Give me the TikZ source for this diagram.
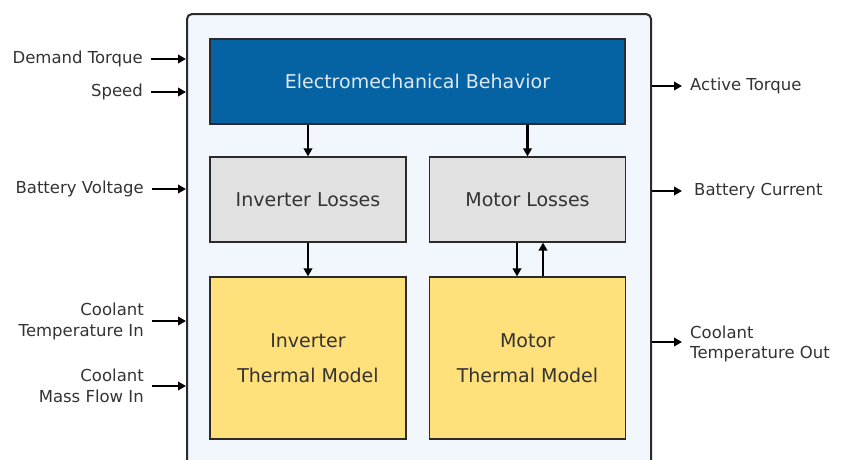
\documentclass[tikz,border=0pt]{standalone}
\usepackage{fontspec}
\setmainfont{DejaVu Sans}
\usetikzlibrary{arrows.meta}
\definecolor{emblue}{HTML}{0563A3}
\definecolor{emtext}{HTML}{DCE8F2}
\definecolor{lossgray}{HTML}{E1E1E1}
\definecolor{thermyel}{HTML}{FFE07A}
\definecolor{outerfill}{HTML}{F1F7FD}
\definecolor{edge}{HTML}{2B2B2B}
\definecolor{txt}{HTML}{333333}
\tikzset{
  outerbox/.style={draw=edge, line width=2pt, fill=outerfill, rounded corners=5pt, inner sep=0pt},
  blockbox/.style={draw=edge, line width=1.2pt, inner sep=0pt, text=txt, font=\fontsize{19}{23}\selectfont},
  embox/.style={blockbox, fill=emblue, text=emtext, minimum width=415pt, minimum height=85pt},
  lossbox/.style={blockbox, fill=lossgray, minimum width=196pt, minimum height=85pt},
  thermbox/.style={blockbox, fill=thermyel, minimum width=196pt, minimum height=162pt, align=center, font=\fontsize{19}{35}\selectfont},
  inlabel/.style={anchor=east, text=txt, align=right, inner sep=0pt, font=\fontsize{16.5}{21}\selectfont},
  outlabel/.style={anchor=west, text=txt, align=left, inner sep=0pt, font=\fontsize{16.5}{20}\selectfont},
  arr/.style={draw=black, line width=2.2pt, -{Triangle[length=8pt,width=8.5pt]}}
}
\begin{document}
\begin{tikzpicture}[x=1pt,y=-1pt]
\useasboundingbox (0,0) rectangle (842,459);
\clip (0,0) rectangle (842,459);
\node[outerbox, anchor=north west, minimum width=464pt, minimum height=480pt] (outer) at (186,13) {};
\node[embox] (em) at (417.5,81.5) {Electromechanical Behavior};
\node[lossbox] (il) at (308,199.5) {Inverter Losses};
\node[lossbox] (ml) at (527.5,199.5) {Motor Losses};
\node[thermbox] (it) at (308,358) {Inverter\\Thermal Model};
\node[thermbox] (mt) at (527.5,358) {Motor\\Thermal Model};
% internal arrows
\draw[arr] (em.south -| il.north) -- (il.north);
\draw[arr] (em.south -| ml.north) -- (ml.north);
\draw[arr] (il.south) -- (it.north);
\draw[arr] ([xshift=-10.5pt]ml.south) -- ([xshift=-10.5pt]mt.north);
\draw[arr] ([xshift=15.5pt]mt.north) -- ([xshift=15.5pt]ml.south);
% inputs
\node[inlabel] (dt) at (143,59) {Demand Torque};
\node[inlabel] (sp) at (143,92) {Speed};
\node[inlabel] (bv) at (144,189) {Battery Voltage};
\node[inlabel] (cti) at (144,321) {Coolant\\Temperature In};
\node[inlabel] (cmf) at (144,386) {Coolant\\Mass Flow In};
\foreach \n in {dt,sp,bv,cti,cmf}{
  \draw[arr] ([xshift=8pt]\n.east) -- (\n.east -| outer.west);
}
% outputs
\node[outlabel] (at) at (690,86) {Active Torque};
\node[outlabel] (bc) at (694,191) {Battery Current};
\node[outlabel] (cto) at (690,344) {Coolant\\Temperature Out};
\draw[arr] (at.west -| outer.east) -- ([xshift=-8pt]at.west);
\draw[arr] (bc.west -| outer.east) -- ([xshift=-12pt]bc.west);
\draw[arr] ([yshift=2pt]cto.west -| outer.east) -- ([xshift=-8pt,yshift=2pt]cto.west);
\end{tikzpicture}
\end{document}
